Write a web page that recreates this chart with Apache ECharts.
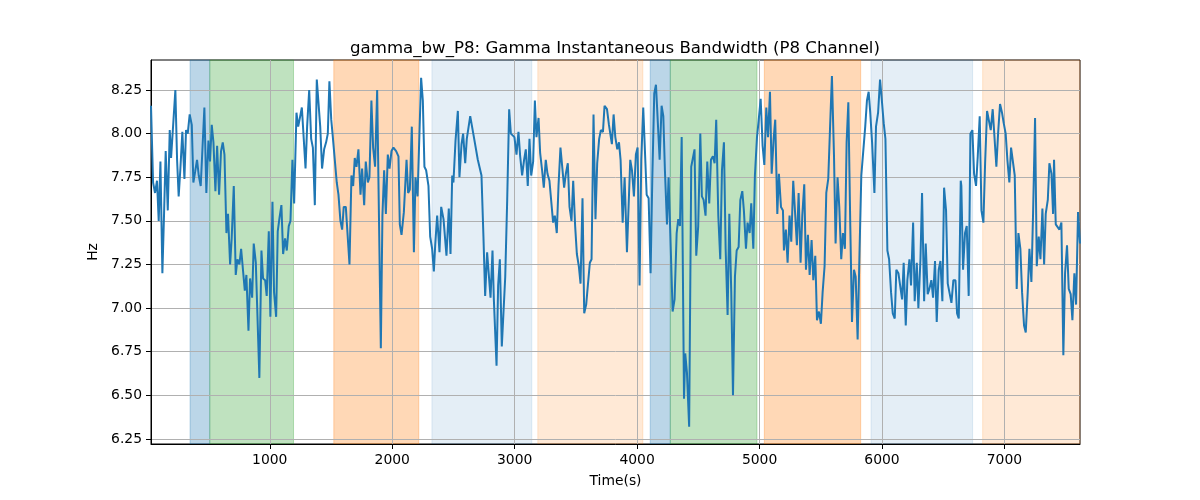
<!DOCTYPE html>
<html><head><meta charset="utf-8">
<script src="https://cdn.jsdelivr.net/npm/echarts@6/dist/echarts.min.js"></script>
<style>html,body{margin:0;padding:0;background:#fff}#c{width:1200px;height:500px}</style>
</head><body><div id="c"></div>
<script>
const titleText = 'gamma_bw_P8: Gamma Instantaneous Bandwidth (P8 Channel)';
const xName = 'Time(s)';
const yName = 'Hz';

const times = [
30,47,63,79,93,107,123,137,150,167,183,194,210,229,243,256,270,286,303,316,330,346,363,376,390,406,420,436,466,482,499,512,526,540,556,570,586,602,616,630,646,659,676,689,706,722,736,752,766,779,796,809,826,839,856,869,886,902,915,932,945,962,975,992,1005,1022,1035,1052,1065,1080,1095,1109,1125,1139,1155,1169,1185,1199,1218,1232,1246,1262,1292,1305,1322,1338,1352,1368,1384,1398,1412,1427,1444,1460,1474,1487,1502,1515,
1547,1561,1577,1591,1604,1621,1651,1667,1681,1694,1708,1724,1741,1754,1771,1784,1801,1814,1830,1844,1860,1877,1907,1920,1934,1948,1964,1978,1994,2010,2032,2051,2062,2076,2095,2117,2130,2144,2160,2177,2190,2207,
2236,2250,2263,2277,2296,2310,2326,2340,2351,2367,2386,2400,2419,2443,2462,2476,2490,2500,2517,2536,2549,2566,2579,2596,2609,2623,2637,2653,2667,2683,2699,2713,2729,2745,2759,2775,2803,2819,2830,2852,2865,2879,2895,2923,2939,2955,2969,2985,
2998,3015,3031,3045,3061,3077,3091,3107,3121,3135,3151,3165,3178,3195,3208,3224,3238,3254,3268,3284,3298,3314,3328,3344,3358,3374,3388,3404,3418,3434,3448,3464,3478,3494,3508,3524,3538,3554,3568,3584,3598,3614,3628,3644,3660,3674,3690,3704,
3721,3734,3754,3770,3794,3808,3822,3838,3852,3865,3882,3898,3917,3944,3958,3974,3990,4004,4020,4034,4050,4064,4078,4094,4110,4124,4140,4154,4167,4184,4200,4214,4227,4244,4257,4271,4290,4306,4323,4336,4350,4364,4383,4393,4407,4425,
4442,4469,4483,4499,4516,4529,4543,4559,4573,4589,4603,4619,4633,4646,4663,4679,4693,4709,4723,4739,4753,4769,4783,4799,4813,4829,4843,4859,4872,4889,4902,4919,4932,4949,4962,4979,4992,5009,5025,5039,5055,5069,5085,5099,5115,5128,5145,5158,5175,5191,
5199,5215,5229,5245,5259,5275,5289,5305,5319,5335,5349,5365,5379,5395,5409,5425,5439,5455,5469,5485,5501,5515,5531,5545,5561,5575,5591,5608,5621,5637,5651,5667,5681,5697,5711,5725,5741,5755,5771,5785,5801,5817,5831,5847,5863,5877,5891,5904,
5919,5938,5951,5968,5984,6000,6014,6028,6044,6058,6074,6088,6104,6117,6134,6147,6164,6177,6194,6207,6224,6237,6254,6267,6284,6297,6314,6327,6344,6357,6373,6387,6403,6417,6433,6447,6463,6477,6493,6507,6523,6537,6553,6567,6583,6600,6613,6627,6643,
6648,6662,6678,6692,6708,6722,6738,6752,6768,6782,6798,6812,6828,6842,6858,6874,6888,6904,6918,6934,6948,6964,6980,6994,7010,7024,7040,7054,7070,7084,7100,7114,7130,7144,7160,7174,7190,7204,7220,7234,7250,7264,7280,7294,7310,7324,7337,7354,7367,7384,7397,
7405,7419,7435,7449,7465,7481,7495,7511,7525,7541,7555,7571,7585,7601,7617
];
const values = [
8.16,7.72,7.66,7.73,7.50,7.84,7.20,7.55,7.90,7.56,8.02,7.86,7.85,8.25,7.85,7.64,7.80,8.01,7.74,8.02,8.00,8.11,8.05,7.72,7.78,7.85,7.76,7.70,8.15,7.66,7.96,7.84,8.05,7.95,7.67,7.93,7.65,7.90,7.95,7.88,7.43,7.54,7.25,7.40,7.70,7.19,7.28,7.25,7.34,7.35,7.10,7.19,6.87,7.17,7.06,7.37,7.26,7.26,6.60,7.33,7.17,7.16,7.07,7.44,6.95,7.61,7.09,6.95,7.44,7.52,7.59,7.31,7.40,7.33,7.47,7.50,7.85,7.60,8.12,8.04,8.09,8.15,7.80,8.04,8.25,7.97,7.92,7.59,8.31,8.32,8.04,7.80,7.91,7.95,8.00,8.30,8.08,7.98,
7.72,7.65,7.50,7.45,7.58,7.58,7.25,7.76,7.70,7.86,7.81,7.91,7.65,7.80,7.59,7.84,7.72,7.75,8.19,7.92,7.81,8.25,6.77,7.53,7.79,7.54,7.88,7.80,7.90,7.92,7.90,7.87,7.48,7.42,7.55,7.85,7.66,7.68,8.04,7.32,7.75,7.64,
8.32,8.19,7.81,7.79,7.70,7.41,7.34,7.21,7.36,7.53,7.32,7.58,7.51,7.30,7.57,7.31,7.76,7.72,7.96,8.13,7.75,7.94,8.00,7.83,7.97,7.98,8.10,8.10,7.98,7.98,7.85,7.85,7.76,7.41,7.07,7.32,7.06,7.33,7.05,6.67,7.13,7.28,6.78,7.18,7.62,8.14,8.00,8.00,
7.98,7.88,8.01,7.87,7.76,7.85,7.91,7.70,7.97,7.76,7.84,8.19,7.98,8.09,7.89,7.79,7.69,7.85,7.77,7.73,7.72,7.49,7.53,7.43,7.70,7.92,7.92,7.69,7.77,7.83,7.58,7.50,7.73,7.47,7.31,7.24,7.14,7.63,6.97,7.02,7.02,7.26,7.28,8.11,7.51,7.83,7.97,8.02,
8.01,8.16,8.14,8.05,7.94,8.11,7.98,7.91,7.95,7.85,7.49,7.75,7.32,7.85,7.79,7.64,7.88,7.92,7.13,7.85,8.15,8.15,7.65,7.63,7.20,7.74,8.23,8.28,8.27,7.85,8.16,8.10,7.79,7.48,7.75,7.43,6.98,7.05,7.43,7.51,7.47,7.98,6.48,6.74,6.63,6.32,
7.81,7.91,7.30,7.47,8.00,7.64,7.62,7.53,7.84,7.60,7.85,7.87,7.83,8.08,7.53,7.28,7.79,7.95,7.34,6.96,7.54,7.09,6.50,7.18,7.33,7.35,7.62,7.67,7.56,7.34,7.49,7.43,7.60,7.34,7.76,7.98,8.07,8.20,7.93,7.82,8.15,7.98,8.24,7.77,7.97,8.08,7.54,7.77,7.58,7.56,
7.33,7.45,7.26,7.53,7.38,7.73,7.56,7.36,7.66,7.26,7.53,7.71,7.22,7.42,7.19,7.39,7.16,7.30,6.93,6.98,6.91,7.09,7.24,7.66,7.74,8.02,8.33,7.87,7.37,7.75,7.58,7.28,7.43,7.34,7.95,8.18,7.47,6.92,7.22,7.18,6.82,7.34,7.76,7.77,8.04,8.19,8.24,8.12,
7.95,7.66,8.04,8.12,8.31,8.18,8.06,7.97,7.33,7.28,7.09,6.97,6.94,7.22,7.20,7.20,7.05,7.26,6.90,7.16,7.28,7.13,7.49,7.04,7.26,7.00,7.28,7.66,7.04,7.37,7.08,7.11,7.16,7.06,7.27,6.92,7.22,7.27,7.04,7.69,7.56,7.14,7.15,7.03,7.16,7.16,6.97,6.94,7.73,
7.70,7.22,7.43,7.47,7.07,8.00,8.02,7.77,7.70,7.87,8.10,7.56,7.49,7.83,8.13,8.13,8.02,8.14,8.14,7.81,8.00,8.17,8.12,8.06,8.00,7.85,7.72,7.92,7.92,7.76,7.11,7.43,7.34,7.09,6.90,6.86,7.09,7.34,7.15,7.55,8.09,7.24,7.41,7.28,7.57,7.25,7.54,7.62,7.83,7.77,7.54,
7.85,7.48,7.48,7.45,7.49,6.73,7.20,7.36,7.11,7.08,6.93,7.20,7.02,7.55,7.37
];

const spanStarts = [349, 510, 1523, 2324, 3189, 4107, 4271, 5039, 5910, 6822];
const spanEnds   = [510, 1194, 2217, 3140, 4047, 4271, 4979, 5826, 6740, 7617];
const spanKinds  = ['blue','green','orange','lightblue','lightorange','blue','green','orange','lightblue','lightorange'];

const xTicks = [1000, 2000, 3000, 4000, 5000, 6000, 7000];
const yTicks = [6.25, 6.50, 6.75, 7.00, 7.25, 7.50, 7.75, 8.00, 8.25];
const xMin = 30, xMax = 7617, yMin = 6.221, yMax = 8.422;

const spanColors = {
  blue: 'rgba(31,119,180,0.3)',
  green: 'rgba(44,160,44,0.3)',
  orange: 'rgba(255,127,14,0.3)',
  lightblue: 'rgba(31,119,180,0.12)',
  lightorange: 'rgba(255,127,14,0.17)'
};

const lineData = times.map((t, i) => [t, values[i]]);
const areas = spanStarts.map((s, i) => [
  {xAxis: s, itemStyle: {color: spanColors[spanKinds[i]], borderColor: spanColors[spanKinds[i]], borderWidth: 1}},
  {xAxis: spanEnds[i]}
]);

const FONT = 'DejaVu Sans';
const chart = echarts.init(document.getElementById('c'), null, {renderer: 'canvas'});
chart.setOption({
  animation: false,
  backgroundColor: '#fff',
  title: {
    text: titleText, left: 610, top: 35, textAlign: 'center',
    textStyle: {fontFamily: FONT, fontSize: 16.6, fontWeight: 'normal', color: '#000'}
  },
  grid: {left: 151, right: 120, top: 60, bottom: 56, show: true, borderColor: '#000', borderWidth: 1, backgroundColor: 'transparent'},
  xAxis: {
    type: 'value', min: xMin, max: xMax, z: 2,
    name: xName, nameLocation: 'middle', nameGap: 30,
    nameTextStyle: {fontFamily: FONT, fontSize: 13.9, color: '#000'},
    axisLine: {show: true, lineStyle: {color: '#000', width: 1}},
    axisTick: {show: true, length: 5, lineStyle: {color: '#000'}, customValues: xTicks},
    axisLabel: {fontFamily: FONT, fontSize: 13.9, color: '#000', margin: 9, customValues: xTicks, formatter: v => String(v)},
    splitLine: {show: true, lineStyle: {color: '#b0b0b0', width: 1}}
  },
  yAxis: {
    type: 'value', min: yMin, max: yMax, z: 2,
    name: yName, nameLocation: 'middle', nameGap: 47, nameRotate: 90,
    nameTextStyle: {fontFamily: FONT, fontSize: 13.9, color: '#000'},
    axisLine: {show: true, lineStyle: {color: '#000', width: 1}},
    axisTick: {show: true, length: 5, lineStyle: {color: '#000'}, customValues: yTicks},
    axisLabel: {fontFamily: FONT, fontSize: 13.9, color: '#000', margin: 9, customValues: yTicks, formatter: v => v.toFixed(2)},
    splitLine: {show: true, lineStyle: {color: '#b0b0b0', width: 1}}
  },
  series: [
    {type: 'line', data: [], z: 1, silent: true, markArea: {silent: true, data: areas}},
    {type: 'line', data: lineData, z: 3, showSymbol: false, symbol: 'none',
     lineStyle: {color: '#1f77b4', width: 2}, itemStyle: {color: '#1f77b4'}}
  ]
});
</script>
</body></html>
